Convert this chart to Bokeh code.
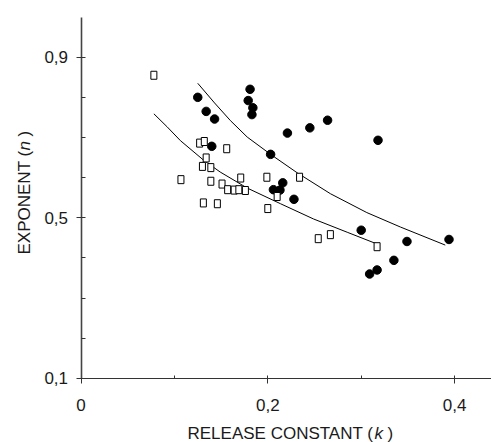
import math
from bokeh.plotting import figure
from bokeh.models import FixedTicker, Label, Range1d
from bokeh.embed import file_html
from bokeh.resources import INLINE

# Filled circles (release constant k, exponent n)
fast_k = [0.125, 0.134, 0.143, 0.181, 0.179, 0.184, 0.183, 0.140, 0.221, 0.245,
          0.264, 0.318, 0.203, 0.216, 0.206, 0.213, 0.228, 0.300, 0.335, 0.317,
          0.309, 0.349, 0.394]
fast_n = [0.800, 0.765, 0.746, 0.820, 0.792, 0.774, 0.757, 0.678, 0.711, 0.724,
          0.743, 0.693, 0.658, 0.587, 0.570, 0.569, 0.546, 0.469, 0.394, 0.370,
          0.360, 0.441, 0.446]

# Open squares
slow_k = [0.078, 0.107, 0.127, 0.132, 0.156, 0.134, 0.130, 0.139, 0.139, 0.151,
          0.157, 0.164, 0.169, 0.176, 0.171, 0.199, 0.234, 0.210, 0.200, 0.131,
          0.146, 0.254, 0.267, 0.317]
slow_n = [0.855, 0.595, 0.686, 0.690, 0.672, 0.649, 0.628, 0.625, 0.591, 0.584,
          0.570, 0.569, 0.570, 0.568, 0.599, 0.601, 0.601, 0.553, 0.523, 0.537,
          0.535, 0.448, 0.458, 0.428]

# Fitted curves
upper_k = [0.125, 0.143, 0.160, 0.178, 0.203, 0.2315, 0.267, 0.306, 0.342, 0.390]
upper_n = [0.835, 0.786, 0.742, 0.701, 0.658, 0.612, 0.560, 0.513, 0.477, 0.432]
lower_k = [0.078, 0.092, 0.1065, 0.1315, 0.149, 0.178, 0.2136, 0.249, 0.285, 0.320]
lower_n = [0.759, 0.727, 0.692, 0.643, 0.614, 0.574, 0.535, 0.497, 0.464, 0.432]

x_ticks = [0, 0.2, 0.4]
x_tick_labels = ["0", "0,2", "0,4"]
x_minor = [0.1, 0.3]
y_ticks = [0.1, 0.5, 0.9]
y_tick_labels = ["0,1", "0,5", "0,9"]
y_minor = [0.2, 0.3, 0.4, 0.6, 0.7, 0.8]

FONT = "Liberation Sans"
INK = "#1a1a1a"
SIZE = "17px"

# The frame covers the whole canvas; the axes sit at fixed data locations.
p = figure(width=491, height=442,
           x_range=Range1d(-0.0862, 0.4395), y_range=Range1d(-0.0597, 1.0412),
           output_backend="svg", toolbar_location=None,
           min_border_left=0, min_border_right=0, min_border_top=0, min_border_bottom=0)
p.outline_line_color = None
p.xgrid.visible = False
p.ygrid.visible = False
p.background_fill_color = "white"
p.border_fill_color = "white"

# curves
p.line(upper_k, upper_n, line_color="black", line_width=1)
p.line(lower_k, lower_n, line_color="black", line_width=1)

# points
p.scatter(fast_k, fast_n, marker="circle", size=8.5, fill_color="black", line_color="black")
p.rect(slow_k, slow_n, width=6, height=8, width_units="screen", height_units="screen",
       fill_color="white", line_color="black", line_width=1)

# x axis
xa = p.xaxis[0]
xa.fixed_location = 0.1
xa.bounds = (0, 0.44)
xa.ticker = FixedTicker(ticks=x_ticks, minor_ticks=x_minor)
xa.major_label_overrides = dict(zip(x_ticks, x_tick_labels))
xa.axis_line_color = "#333333"
xa.axis_line_width = 1
xa.major_tick_in = 3
xa.major_tick_out = 5
xa.minor_tick_in = 3
xa.minor_tick_out = 0
xa.major_tick_line_color = "#333333"
xa.minor_tick_line_color = "#333333"
xa.major_label_text_font = FONT
xa.major_label_text_font_size = SIZE
xa.major_label_text_color = INK
xa.major_label_standoff = 16

# y axis
ya = p.yaxis[0]
ya.fixed_location = 0
ya.bounds = (0.1, 1.0)
ya.ticker = FixedTicker(ticks=y_ticks, minor_ticks=y_minor)
ya.major_label_overrides = dict(zip(y_ticks, y_tick_labels))
ya.axis_line_color = "#444444"
ya.axis_line_width = 1.6
ya.major_tick_in = 4
ya.major_tick_out = 5
ya.minor_tick_in = 4
ya.minor_tick_out = 0
ya.major_tick_line_color = "#333333"
ya.minor_tick_line_color = "#333333"
ya.major_label_text_font = FONT
ya.major_label_text_font_size = SIZE
ya.major_label_text_color = INK
ya.major_label_standoff = 8

# axis titles (with italic symbols)
def lab(x, y, text, style="normal", angle=0.0):
    p.add_layout(Label(x=x, y=y, text=text, text_font=FONT, text_font_size=SIZE,
                       text_font_style=style, text_color=INK, text_align="left",
                       text_baseline="alphabetic", angle=angle))

xt_y = -0.0372
lab(0.114, xt_y, "RELEASE CONSTANT (")
lab(0.3142, xt_y, "k", "italic")
lab(0.3282, xt_y, ")")

yt_x = -0.0604
lab(yt_x, 0.4086, "EXPONENT (", angle=math.pi / 2)
lab(yt_x, 0.6674, "n", "italic", angle=math.pi / 2)
lab(yt_x, 0.7025, ")", angle=math.pi / 2)

open("out.html", "w").write(file_html(p, INLINE))
